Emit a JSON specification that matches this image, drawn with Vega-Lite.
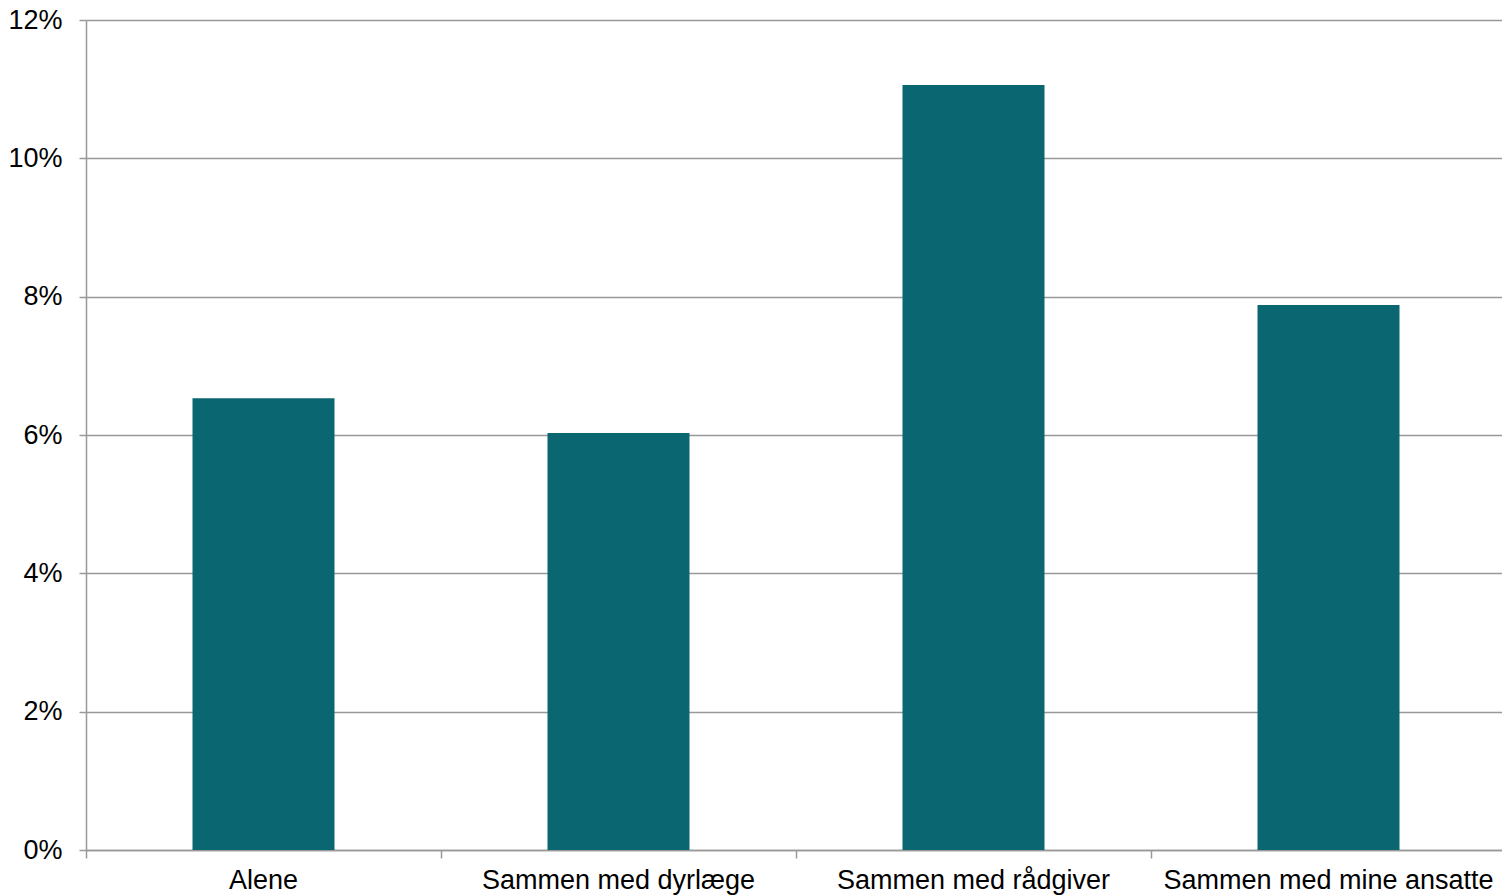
{
  "$schema": "https://vega.github.io/schema/vega-lite/v6.json",
  "width": 1420,
  "height": 830,
  "autosize": {"type": "none"},
  "padding": {"left": 86, "top": 20, "right": 0, "bottom": 46},
  "background": "white",
  "config": {
    "view": {"stroke": null},
    "font": "Liberation Sans",
    "axis": {
      "labelFont": "Liberation Sans",
      "labelFontSize": 27,
      "labelColor": "#000000",
      "labelLimit": 0,
      "domainColor": "#999999",
      "tickColor": "#999999",
      "gridColor": "#999999",
      "domainWidth": 1.5,
      "tickWidth": 1.5,
      "gridWidth": 1.5,
      "title": null
    }
  },
  "data": {
    "values": [
      {"kategori": "Alene", "andel": 0.0653},
      {"kategori": "Sammen med dyrlæge", "andel": 0.0603},
      {"kategori": "Sammen med rådgiver", "andel": 0.1106},
      {"kategori": "Sammen med mine ansatte", "andel": 0.0788}
    ]
  },
  "resolve": {"axis": {"x": "independent"}, "scale": {"x": "independent"}},
  "layer": [
    {
      "mark": {"type": "bar", "color": "#0A6670"},
      "encoding": {
        "x": {
          "field": "kategori",
          "type": "nominal",
          "sort": null,
          "scale": {"paddingInner": 0.6, "paddingOuter": 0.3},
          "axis": {"orient": "bottom", "ticks": false, "labelAngle": 0, "labelPadding": 17, "domain": true}
        },
        "y": {
          "field": "andel",
          "type": "quantitative",
          "scale": {"domain": [0, 0.12]},
          "axis": {"format": ".0%", "values": [0, 0.02, 0.04, 0.06, 0.08, 0.1, 0.12], "tickSize": 7, "labelPadding": 17, "grid": true}
        }
      }
    },
    {
      "mark": {"type": "bar", "opacity": 0},
      "encoding": {
        "x": {
          "field": "kategori",
          "type": "nominal",
          "sort": null,
          "scale": {"paddingInner": 0, "paddingOuter": 0},
          "axis": {"orient": "bottom", "labels": false, "ticks": true, "tickSize": 8, "bandPosition": 0, "domain": false, "grid": false}
        },
        "y": {"field": "andel", "type": "quantitative"}
      }
    }
  ]
}
